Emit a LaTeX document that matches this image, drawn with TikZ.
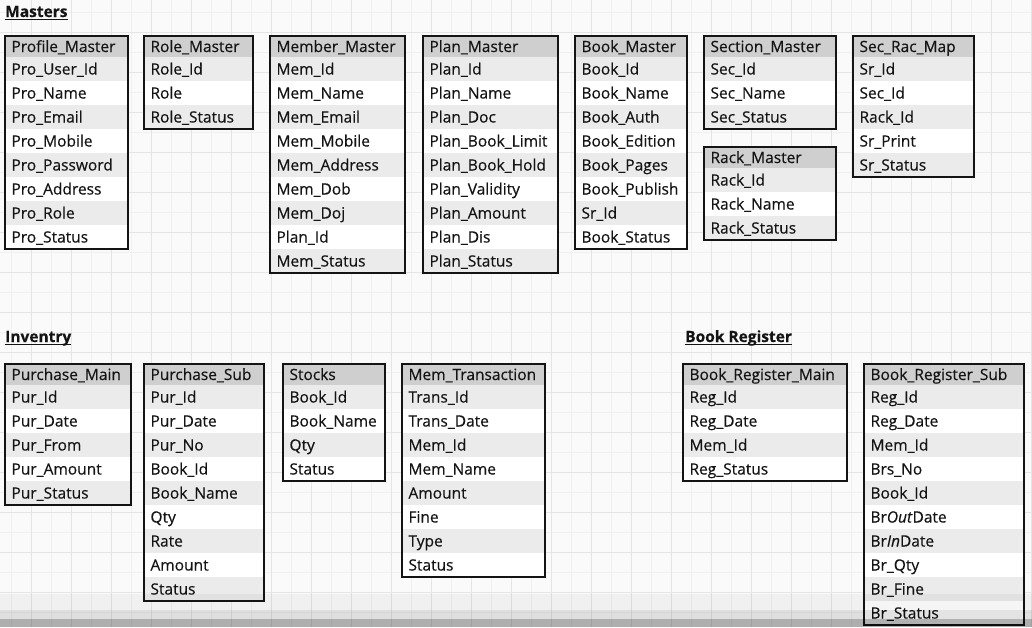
\documentclass[tikz,border=0pt]{standalone}
\usepackage{fontspec}
\usepackage{xcolor}
\setmainfont{Open Sans}[FakeBold=0.4]
\usetikzlibrary{positioning}

\definecolor{paper}{HTML}{FAFAFA}
\definecolor{gridminor}{HTML}{F0F0F0}
\definecolor{gridmajor}{HTML}{E5E5E5}
\definecolor{headgray}{HTML}{CFCFCF}
\definecolor{rowgray}{HTML}{EBEBEB}
\definecolor{inkdark}{HTML}{141414}

\tikzset{
  headcell/.style={anchor=north west, fill=headgray, inner xsep=6.5pt, inner ysep=0pt, outer sep=0pt,
    minimum height=21pt, text height=12pt, text depth=1pt, align=left, text=inkdark},
  fieldcell/.style={headcell, minimum height=24pt},
  tableframe/.style={draw=inkdark, line width=2.4pt},
  sectiontitle/.style={anchor=base west, inner sep=0pt, text depth=2.5pt,
    font=\fontsize{15.5}{18}\selectfont\bfseries, text=inkdark},
  titlerule/.style={draw=inkdark, line width=1.5pt},
  minorline/.style={draw=gridminor, line width=1pt},
  majorline/.style={draw=gridmajor, line width=1pt},
}

% table: name, left x, top y, width, title, fields
\newcommand{\dbtable}[6]{%
  \pgfmathsetmacro\cellw{#4-13}
  \node[headcell, text width=\cellw pt] (#1-0) at (#2,#3) {#5};
  \foreach \fld [count=\i, remember=\i as \j (initially 0)] in {#6} {
    \ifodd\i\relax \def\rowfill{rowgray}\else \def\rowfill{white}\fi
    \node[fieldcell, fill=\rowfill, text width=\cellw pt] (#1-\i) at (#1-\j.south west) {\fld};
    \xdef\lastrow{\i}
  }
  \draw[tableframe] (#1-0.north west) rectangle (#1-\lastrow.south east);
}

\begin{document}
\begin{tikzpicture}[x=1pt, y=-1pt, font=\fontsize{15.5}{18}\selectfont]
  \useasboundingbox (0,0) rectangle (1032,627);

  % Paper and grid
  \fill[paper] (0,0) rectangle (1032,627);
  \foreach \gx in {11,51,...,1011} \draw[minorline] (\gx,0) -- (\gx,627);
  \foreach \gy in {12,52,...,612} \draw[minorline] (0,\gy) -- (1032,\gy);
  \foreach \gx in {31,71,...,1031} \draw[majorline] (\gx,0) -- (\gx,627);
  \foreach \gy in {32,72,...,612} \draw[majorline] (0,\gy) -- (1032,\gy);

  % Section titles
  \node[sectiontitle] (masters) at (5,17) {Masters};
  \draw[titlerule] (masters.south west) -- (masters.south east);
  \node[sectiontitle] (inventry) at (5,342) {Inventry};
  \draw[titlerule] (inventry.south west) -- (inventry.south east);
  \node[sectiontitle] (bookreg) at (685,342) {Book Register};
  \draw[titlerule] (bookreg.south west) -- (bookreg.south east);

  % Masters tables
  \dbtable{profile}{5}{36}{123}{Profile\_Master}{Pro\_User\_Id, Pro\_Name, Pro\_Email, Pro\_Mobile, Pro\_Password, Pro\_Address, Pro\_Role, Pro\_Status}
  \dbtable{role}{144}{36}{109}{Role\_Master}{Role\_Id, Role, Role\_Status}
  \dbtable{member}{270}{36}{135}{Member\_Master}{Mem\_Id, Mem\_Name, Mem\_Email, Mem\_Mobile, Mem\_Address, Mem\_Dob, Mem\_Doj, Plan\_Id, Mem\_Status}
  \dbtable{plan}{423}{36}{135}{Plan\_Master}{Plan\_Id, Plan\_Name, Plan\_Doc, Plan\_Book\_Limit, Plan\_Book\_Hold, Plan\_Validity, Plan\_Amount, Plan\_Dis, Plan\_Status}
  \dbtable{book}{575}{36}{112}{Book\_Master}{Book\_Id, Book\_Name, Book\_Auth, Book\_Edition, Book\_Pages, Book\_Publish, Sr\_Id, Book\_Status}
  \dbtable{section}{704}{36}{132}{Section\_Master}{Sec\_Id, Sec\_Name, Sec\_Status}
  \dbtable{rack}{704}{147}{132}{Rack\_Master}{Rack\_Id, Rack\_Name, Rack\_Status}
  \dbtable{secrac}{853}{36}{121}{Sec\_Rac\_Map}{Sr\_Id, Sec\_Id, Rack\_Id, Sr\_Print, Sr\_Status}

  % Inventry tables
  \dbtable{purmain}{5}{364}{126}{Purchase\_Main}{Pur\_Id, Pur\_Date, Pur\_From, Pur\_Amount, Pur\_Status}
  \dbtable{pursub}{144}{364}{120}{Purchase\_Sub}{Pur\_Id, Pur\_Date, Pur\_No, Book\_Id, Book\_Name, Qty, Rate, Amount, Status}
  \dbtable{stocks}{283}{364}{102}{Stocks}{Book\_Id, Book\_Name, Qty, Status}
  \dbtable{memtrans}{402}{364}{143}{Mem\_Transaction}{Trans\_Id, Trans\_Date, Mem\_Id, Mem\_Name, Amount, Fine, Type, Status}

  % Book Register tables
  \dbtable{regmain}{683}{364}{164}{Book\_Register\_Main}{Reg\_Id, Reg\_Date, Mem\_Id, Reg\_Status}
  \dbtable{regsub}{864}{364}{160}{Book\_Register\_Sub}{Reg\_Id, Reg\_Date, Mem\_Id, Brs\_No, Book\_Id, Br\textit{Out}Date, Br\textit{In}Date, Br\_Qty, Br\_Fine, Br\_Status}

  % Shadow band at the bottom edge
  \fill[black, opacity=0.04] (0,594) rectangle (1032,627);
  \fill[black, opacity=0.07] (0,610) rectangle (1032,627);
  \fill[black, opacity=0.22] (0,619) rectangle (1032,627);
\end{tikzpicture}
\end{document}
